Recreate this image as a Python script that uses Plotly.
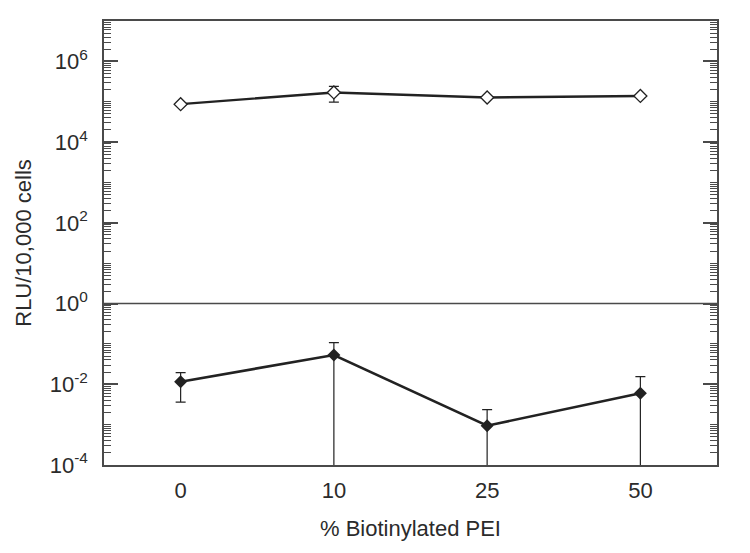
import plotly.graph_objects as go

# ---- data ----
categories = ["0", "10", "25", "50"]          # % biotinylated PEI
x_pos = [0, 1, 2, 3]

open_vals = [8.7e4, 1.7e5, 1.27e5, 1.39e5]
open_err_plus = [0, 7.0e4, 0, 0]
open_err_minus = [0, 7.2e4, 0, 0]

filled_vals = [0.0116, 0.053, 0.00094, 0.006]
filled_err_plus = [0.0078, 0.054, 0.00141, 0.0095]
filled_err_minus = [0.008, 0.053, 0.00094, 0.006]   # lower bound reaches 0 for the last three

y_range_exp = [-4, 7]
y_label_exps = [-4, -2, 0, 2, 4, 6]
y_label_vals = [10.0 ** e for e in y_label_exps]
y_label_text = [f"10<sup>{e}</sup>" for e in y_label_exps]
y_odd_vals = [10.0 ** e for e in [-3, -1, 1, 3, 5, 7]]

x_range = [-0.5, 3.5]
x_major_ticks = [-0.5, 0.5, 1.5, 2.5, 3.5]
baseline_exp = 0   # 10^0 reference line

FONT = "Liberation Sans, Arial, sans-serif"
AX = "#4a4a4a"
TXT = "#2b2b2b"
LINE = "#222222"

fig = go.Figure()

fig.add_trace(go.Scatter(
    x=x_pos, y=open_vals, mode="lines+markers",
    line=dict(color=LINE, width=2.4),
    marker=dict(symbol="diamond", size=10, color="white", line=dict(width=1.3, color=LINE)),
    error_y=dict(type="data", array=open_err_plus, arrayminus=open_err_minus,
                 color=LINE, thickness=1.2, width=5),
    showlegend=False,
))

fig.add_trace(go.Scatter(
    x=x_pos, y=filled_vals, mode="lines+markers",
    line=dict(color=LINE, width=2.6),
    marker=dict(symbol="diamond", size=10, color=LINE),
    error_y=dict(type="data", array=filled_err_plus, arrayminus=filled_err_minus,
                 color=LINE, thickness=1.2, width=5),
    showlegend=False,
))

# horizontal reference line at 10^0 (placed in axis-domain units)
frac = (baseline_exp - y_range_exp[0]) / (y_range_exp[1] - y_range_exp[0])
fig.add_shape(type="line", xref="x domain", x0=0, x1=1, yref="y domain", y0=frac, y1=frac,
              line=dict(color=AX, width=1.5), layer="above")

tick_common = dict(ticks="inside", ticklen=14, tickwidth=1.5, tickcolor=AX,
                   showline=True, linecolor=AX, linewidth=1.5, mirror="ticks",
                   showgrid=False, zeroline=False, automargin=False)

fig.update_layout(
    width=750, height=553,
    margin=dict(l=104, r=33, t=21, b=88),
    paper_bgcolor="white", plot_bgcolor="white",
    font=dict(family=FONT, size=22, color=TXT),
    xaxis=dict(
        range=x_range, tickmode="array", tickvals=x_pos, ticktext=categories,
        ticks="", showgrid=False, zeroline=False, automargin=False,
        showline=True, linecolor=AX, linewidth=1.5, mirror=True,
        tickfont=dict(size=22, color=TXT), ticklabelstandoff=5,
        title=dict(text="% Biotinylated PEI", font=dict(size=22, color=TXT), standoff=18),
    ),
    xaxis2=dict(
        overlaying="x", anchor="y", range=x_range,
        tickmode="array", tickvals=x_major_ticks, showticklabels=False,
        **{**tick_common, "ticklen": 13},
        minor=dict(ticks="inside", ticklen=7, tickwidth=1.5, tickcolor=AX,
                   tick0=x_range[0], dtick=0.2, showgrid=False),
    ),
    yaxis=dict(
        type="log", range=y_range_exp, tickmode="array",
        tickvals=y_label_vals, ticktext=y_label_text,
        **tick_common,
        tickfont=dict(size=22, color=TXT), ticklabelstandoff=10,
        minor=dict(ticks="inside", ticklen=7, tickwidth=1.3, tickcolor=AX,
                   dtick="D1", showgrid=False),
        title=dict(text="RLU/10,000 cells", font=dict(size=22, color=TXT), standoff=12),
    ),
    yaxis2=dict(
        type="log", range=y_range_exp, overlaying="y", anchor="x", side="left",
        tickmode="array", tickvals=y_odd_vals, showticklabels=False,
        **tick_common,
    ),
)

fig.write_html("out.html", config={"displayModeBar": False},
               post_script="document.body.style.margin='0';")
